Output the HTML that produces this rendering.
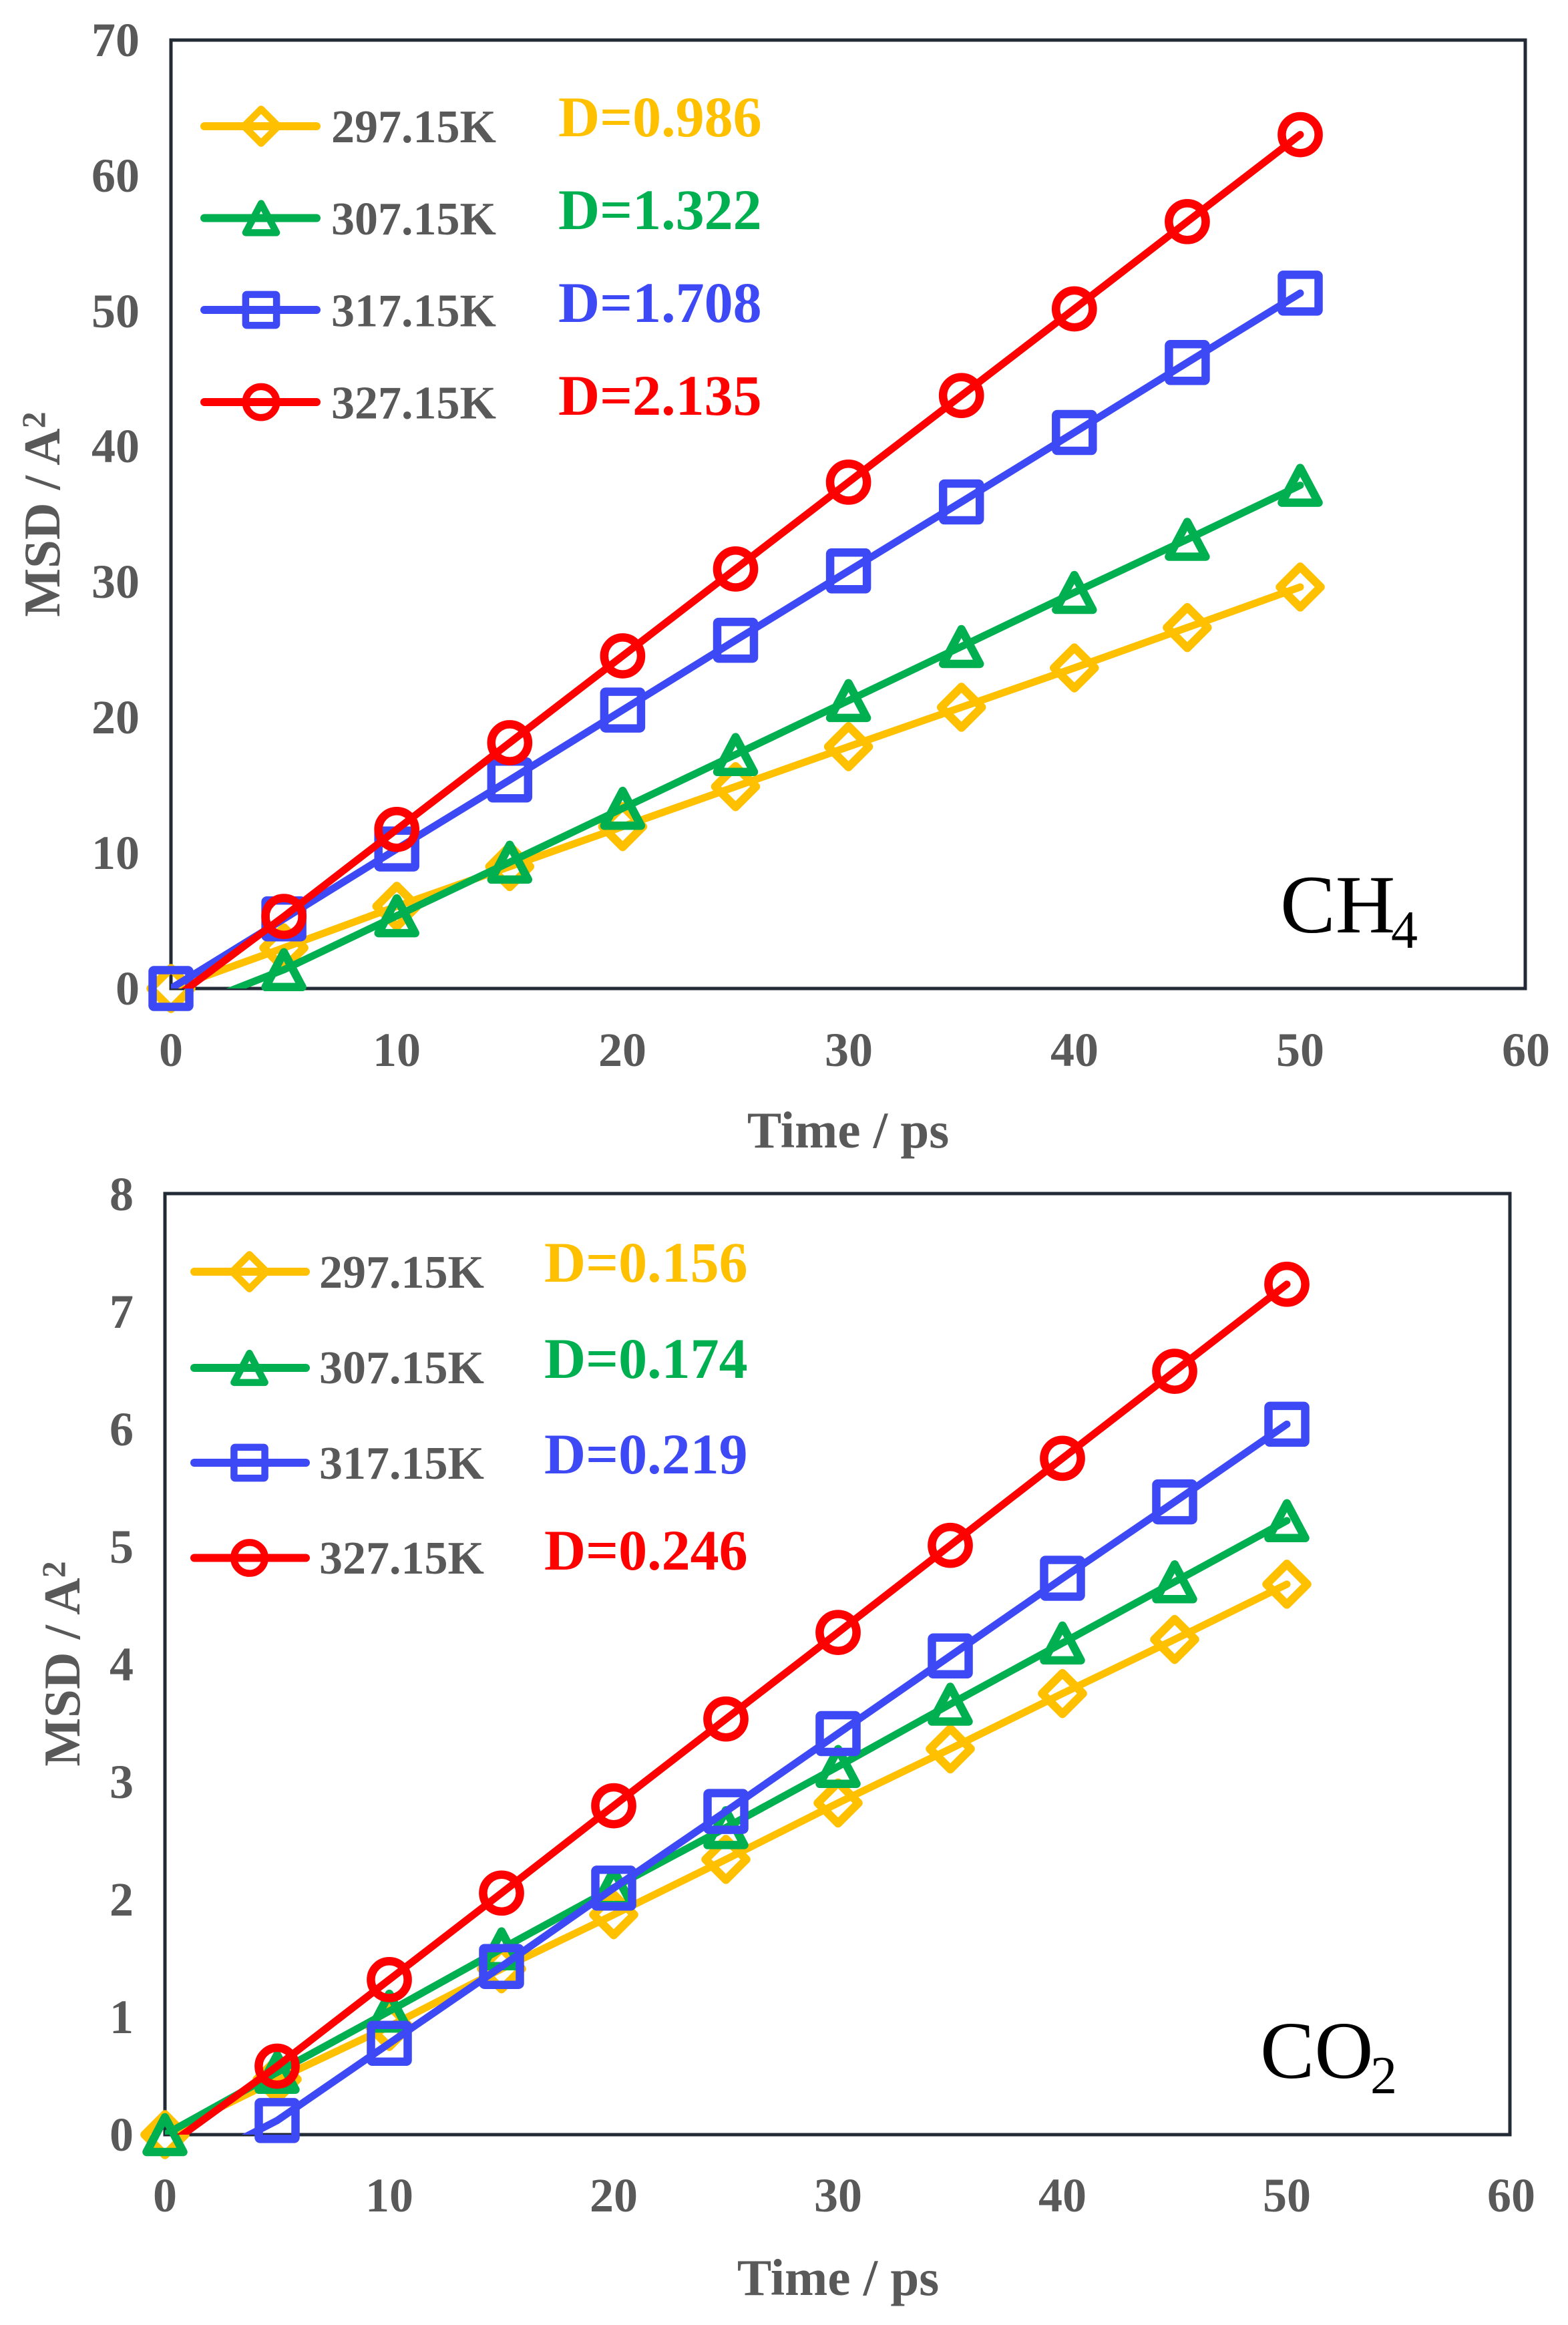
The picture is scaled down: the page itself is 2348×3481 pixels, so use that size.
<!DOCTYPE html>
<html>
<head>
<meta charset="utf-8">
<style>
html,body{margin:0;padding:0;background:#fff;}
svg{display:block;}
text{font-family:"Liberation Serif","Times New Roman",serif;}
.tk{font-size:72px;font-weight:bold;fill:#595959;}
.ttl{font-size:77px;font-weight:bold;fill:#595959;}
.lg{font-size:70px;font-weight:bold;fill:#595959;}
.dv{font-size:86px;font-weight:bold;}
</style>
</head>
<body>
<svg width="2348" height="3481" viewBox="0 0 2348 3481" xmlns="http://www.w3.org/2000/svg">
<defs>
  <clipPath id="c1"><rect x="256" y="60" width="2029" height="1420"/></clipPath>
  <clipPath id="c2"><rect x="247" y="1787" width="2016" height="1409"/></clipPath>
  <path id="mD" d="M0,-30.5 L30.5,0 L0,30.5 L-30.5,0 Z" fill="none" stroke="#FFC000" stroke-width="12.5" stroke-linejoin="round"/>
  <path id="mT" d="M0,-26 L27.5,26 L-27.5,26 Z" fill="none" stroke="#00B050" stroke-width="12.5" stroke-linejoin="round"/>
  <rect id="mS" x="-27.5" y="-27.5" width="55" height="55" rx="2" fill="none" stroke="#3D49F5" stroke-width="12.5" stroke-linejoin="round"/>
  <circle id="mC" r="27.6" fill="none" stroke="#FF0000" stroke-width="12.5"/>
</defs>
<rect width="2348" height="3481" fill="#fff"/>

<!-- ===================== TOP PLOT (CH4) ===================== -->
<rect x="256" y="60" width="2028" height="1420" fill="none" stroke="#222A35" stroke-width="5"/>

<g class="tk" text-anchor="end">
  <text x="209" y="1504">0</text>
  <text x="209" y="1301">10</text>
  <text x="209" y="1098">20</text>
  <text x="209" y="895">30</text>
  <text x="209" y="692">40</text>
  <text x="209" y="490">50</text>
  <text x="209" y="287">60</text>
  <text x="209" y="84">70</text>
</g>
<g class="tk" text-anchor="middle">
  <text x="256" y="1596">0</text>
  <text x="594" y="1596">10</text>
  <text x="932" y="1596">20</text>
  <text x="1271" y="1596">30</text>
  <text x="1609" y="1596">40</text>
  <text x="1947" y="1596">50</text>
  <text x="2285" y="1596">60</text>
</g>
<text class="ttl" x="1270" y="1718" text-anchor="middle">Time / ps</text>
<text class="ttl" font-size="80" text-anchor="middle" transform="translate(89,770) rotate(-90)">MSD / A<tspan font-size="50" dy="-22">2</tspan></text>

<g clip-path="url(#c1)" fill="none" stroke-width="11" stroke-linecap="round" stroke-linejoin="round">
  <polyline stroke="#FFC000" points="256,1480 425.1,1419.1 594.2,1356.9 763.3,1297.4 932.4,1237.6 1101.5,1177.7 1270.6,1117.9 1439.7,1058.9 1608.8,1000 1777.9,939.6 1947,878.9"/>
</g>
<g>
  <use href="#mD" x="256" y="1480"/><use href="#mD" x="425.1" y="1419.1"/><use href="#mD" x="594.2" y="1356.9"/><use href="#mD" x="763.3" y="1297.4"/><use href="#mD" x="932.4" y="1237.6"/><use href="#mD" x="1101.5" y="1177.7"/><use href="#mD" x="1270.6" y="1117.9"/><use href="#mD" x="1439.7" y="1058.9"/><use href="#mD" x="1608.8" y="1000"/><use href="#mD" x="1777.9" y="939.6"/><use href="#mD" x="1947" y="878.9"/>
</g>
<g clip-path="url(#c1)" fill="none" stroke-width="11" stroke-linecap="round" stroke-linejoin="round">
  <polyline stroke="#00B050" points="256,1518.3 425.1,1451.8 594.2,1371.1 763.3,1290.9 932.4,1210.2 1101.5,1129.7 1270.6,1048.9 1439.7,968 1608.8,887 1777.9,807.5 1947,726.6"/>
</g>
<g>
  <use href="#mT" x="425.1" y="1451.8"/><use href="#mT" x="594.2" y="1371.1"/><use href="#mT" x="763.3" y="1290.9"/><use href="#mT" x="932.4" y="1210.2"/><use href="#mT" x="1101.5" y="1129.7"/><use href="#mT" x="1270.6" y="1048.9"/><use href="#mT" x="1439.7" y="968"/><use href="#mT" x="1608.8" y="887"/><use href="#mT" x="1777.9" y="807.5"/><use href="#mT" x="1947" y="726.6"/>
</g>
<g clip-path="url(#c1)" fill="none" stroke-width="11" stroke-linecap="round" stroke-linejoin="round">
  <polyline stroke="#3D49F5" points="256,1480 425.1,1375.7 594.2,1271.1 763.3,1167.8 932.4,1063.1 1101.5,958.6 1270.6,854.8 1439.7,751.5 1608.8,647.5 1777.9,542.8 1947,438.9"/>
</g>
<g>
  <use href="#mS" x="256" y="1480"/><use href="#mS" x="425.1" y="1375.7"/><use href="#mS" x="594.2" y="1271.1"/><use href="#mS" x="763.3" y="1167.8"/><use href="#mS" x="932.4" y="1063.1"/><use href="#mS" x="1101.5" y="958.6"/><use href="#mS" x="1270.6" y="854.8"/><use href="#mS" x="1439.7" y="751.5"/><use href="#mS" x="1608.8" y="647.5"/><use href="#mS" x="1777.9" y="542.8"/><use href="#mS" x="1947" y="438.9"/>
</g>
<g clip-path="url(#c1)" fill="none" stroke-width="11" stroke-linecap="round" stroke-linejoin="round">
  <polyline stroke="#FF0000" points="256,1498.3 425.1,1372.1 594.2,1241.8 763.3,1112 932.4,982 1101.5,851.9 1270.6,721.9 1439.7,592.2 1608.8,462.5 1777.9,331.8 1947,201.6"/>
</g>
<g>
  <use href="#mC" x="425.1" y="1372.1"/><use href="#mC" x="594.2" y="1241.8"/><use href="#mC" x="763.3" y="1112"/><use href="#mC" x="932.4" y="982"/><use href="#mC" x="1101.5" y="851.9"/><use href="#mC" x="1270.6" y="721.9"/><use href="#mC" x="1439.7" y="592.2"/><use href="#mC" x="1608.8" y="462.5"/><use href="#mC" x="1777.9" y="331.8"/><use href="#mC" x="1947" y="201.6"/>
</g>

<!-- legend top -->
<g stroke-width="12" stroke-linecap="round">
  <line x1="306" y1="189" x2="474" y2="189" stroke="#FFC000"/>
  <line x1="306" y1="326.5" x2="474" y2="326.5" stroke="#00B050"/>
  <line x1="306" y1="464" x2="474" y2="464" stroke="#3D49F5"/>
  <line x1="306" y1="602" x2="474" y2="602" stroke="#FF0000"/>
</g>
<use href="#mD" transform="translate(391,189) scale(0.84)"/>
<use href="#mT" transform="translate(391,326.5) scale(0.84)"/>
<use href="#mS" transform="translate(391,464) scale(0.84)"/>
<use href="#mC" transform="translate(391,602) scale(0.84)"/>
<g class="lg">
  <text x="496" y="213">297.15K</text>
  <text x="496" y="351">307.15K</text>
  <text x="496" y="488.5">317.15K</text>
  <text x="496" y="626.5">327.15K</text>
</g>
<text class="dv" x="836" y="204" fill="#FFC000">D=0.986</text>
<text class="dv" x="836" y="343" fill="#00B050">D=1.322</text>
<text class="dv" x="836" y="482" fill="#3D49F5">D=1.708</text>
<text class="dv" x="836" y="621" fill="#FF0000">D=2.135</text>

<text x="1917" y="1396" font-size="124" fill="#000">CH</text>
<text x="2083" y="1419" font-size="80" fill="#000">4</text>

<!-- ===================== BOTTOM PLOT (CO2) ===================== -->
<rect x="247" y="1787" width="2014" height="1409" fill="none" stroke="#222A35" stroke-width="5"/>

<g class="tk" text-anchor="end">
  <text x="200" y="3220">0</text>
  <text x="200" y="3044">1</text>
  <text x="200" y="2868">2</text>
  <text x="200" y="2692">3</text>
  <text x="200" y="2516">4</text>
  <text x="200" y="2340">5</text>
  <text x="200" y="2164">6</text>
  <text x="200" y="1988">7</text>
  <text x="200" y="1812">8</text>
</g>
<g class="tk" text-anchor="middle">
  <text x="247" y="3311">0</text>
  <text x="583" y="3311">10</text>
  <text x="919" y="3311">20</text>
  <text x="1255" y="3311">30</text>
  <text x="1591" y="3311">40</text>
  <text x="1927" y="3311">50</text>
  <text x="2263" y="3311">60</text>
</g>
<text class="ttl" x="1255" y="3436" text-anchor="middle">Time / ps</text>
<text class="ttl" font-size="80" text-anchor="middle" transform="translate(119,2491) rotate(-90)">MSD / A<tspan font-size="50" dy="-22">2</tspan></text>

<g clip-path="url(#c2)" fill="none" stroke-width="11" stroke-linecap="round" stroke-linejoin="round">
  <polyline stroke="#FFC000" points="247,3196 415,3113.2 583,3034 751,2947.7 919,2866.7 1087,2783.9 1255,2699.4 1423,2618.4 1591,2535.6 1759,2454.6 1927,2371.9"/>
</g>
<g>
  <use href="#mD" x="247" y="3196"/><use href="#mD" x="415" y="3113.2"/><use href="#mD" x="583" y="3034"/><use href="#mD" x="751" y="2947.7"/><use href="#mD" x="919" y="2866.7"/><use href="#mD" x="1087" y="2783.9"/><use href="#mD" x="1255" y="2699.4"/><use href="#mD" x="1423" y="2618.4"/><use href="#mD" x="1591" y="2535.6"/><use href="#mD" x="1759" y="2454.6"/><use href="#mD" x="1927" y="2371.9"/>
</g>
<g clip-path="url(#c2)" fill="none" stroke-width="11" stroke-linecap="round" stroke-linejoin="round">
  <polyline stroke="#00B050" points="247,3196 415,3102.7 583,3011.1 751,2917.8 919,2826.2 1087,2736.4 1255,2644.8 1423,2551.5 1591,2459.9 1759,2368.3 1927,2276.8"/>
</g>
<g>
  <use href="#mT" x="247" y="3196"/><use href="#mT" x="415" y="3102.7"/><use href="#mT" x="583" y="3011.1"/><use href="#mT" x="751" y="2917.8"/><use href="#mT" x="919" y="2826.2"/><use href="#mT" x="1087" y="2736.4"/><use href="#mT" x="1255" y="2644.8"/><use href="#mT" x="1423" y="2551.5"/><use href="#mT" x="1591" y="2459.9"/><use href="#mT" x="1759" y="2368.3"/><use href="#mT" x="1927" y="2276.8"/>
</g>
<g clip-path="url(#c2)" fill="none" stroke-width="11" stroke-linecap="round" stroke-linejoin="round">
  <polyline stroke="#3D49F5" points="247,3261.2 415,3174.9 583,3059.3 751,2944.2 919,2826.9 1087,2712.1 1255,2595.5 1423,2479.3 1591,2363 1759,2248.6 1927,2132.4"/>
</g>
<g>
  <use href="#mS" x="415" y="3174.9"/><use href="#mS" x="583" y="3059.3"/><use href="#mS" x="751" y="2944.2"/><use href="#mS" x="919" y="2826.9"/><use href="#mS" x="1087" y="2712.1"/><use href="#mS" x="1255" y="2595.5"/><use href="#mS" x="1423" y="2479.3"/><use href="#mS" x="1591" y="2363"/><use href="#mS" x="1759" y="2248.6"/><use href="#mS" x="1927" y="2132.4"/>
</g>
<g clip-path="url(#c2)" fill="none" stroke-width="11" stroke-linecap="round" stroke-linejoin="round">
  <polyline stroke="#FF0000" points="247,3215.4 415,3093.5 583,2963.9 751,2834.3 919,2703.6 1087,2573.7 1255,2444.1 1423,2313.7 1591,2183.4 1759,2053.1 1927,1922.8"/>
</g>
<g>
  <use href="#mC" x="415" y="3093.5"/><use href="#mC" x="583" y="2963.9"/><use href="#mC" x="751" y="2834.3"/><use href="#mC" x="919" y="2703.6"/><use href="#mC" x="1087" y="2573.7"/><use href="#mC" x="1255" y="2444.1"/><use href="#mC" x="1423" y="2313.7"/><use href="#mC" x="1591" y="2183.4"/><use href="#mC" x="1759" y="2053.1"/><use href="#mC" x="1927" y="1922.8"/>
</g>

<!-- legend bottom -->
<g stroke-width="12" stroke-linecap="round">
  <line x1="291" y1="1904" x2="458" y2="1904" stroke="#FFC000"/>
  <line x1="291" y1="2048" x2="458" y2="2048" stroke="#00B050"/>
  <line x1="291" y1="2190" x2="458" y2="2190" stroke="#3D49F5"/>
  <line x1="291" y1="2332.5" x2="458" y2="2332.5" stroke="#FF0000"/>
</g>
<use href="#mD" transform="translate(373.5,1904) scale(0.84)"/>
<use href="#mT" transform="translate(373.5,2048) scale(0.84)"/>
<use href="#mS" transform="translate(373.5,2190) scale(0.84)"/>
<use href="#mC" transform="translate(373.5,2332.5) scale(0.84)"/>
<g class="lg">
  <text x="478" y="1928">297.15K</text>
  <text x="478" y="2071">307.15K</text>
  <text x="478" y="2214">317.15K</text>
  <text x="478" y="2356">327.15K</text>
</g>
<text class="dv" x="815" y="1919" fill="#FFC000">D=0.156</text>
<text class="dv" x="815" y="2063" fill="#00B050">D=0.174</text>
<text class="dv" x="815" y="2206" fill="#3D49F5">D=0.219</text>
<text class="dv" x="815" y="2350" fill="#FF0000">D=0.246</text>

<text x="1887" y="3111" font-size="122" fill="#000">CO</text>
<text x="2052" y="3134" font-size="80" fill="#000">2</text>
</svg>
</body>
</html>
